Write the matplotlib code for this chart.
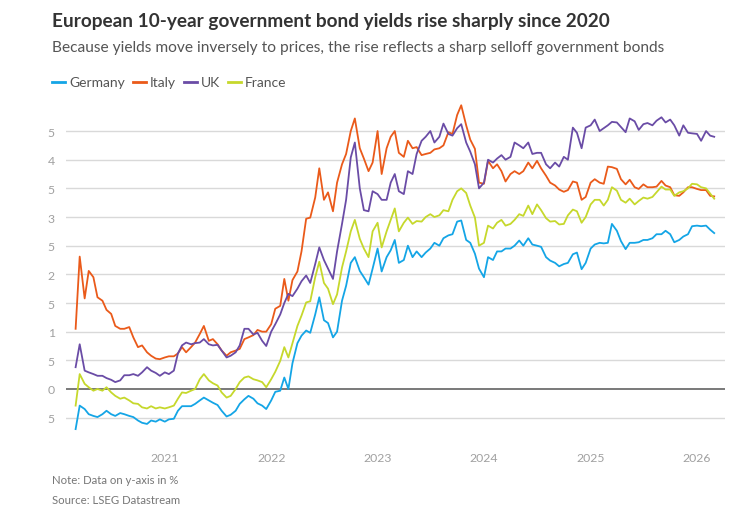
import numpy as np
import pandas as pd
import matplotlib
matplotlib.use("Agg")
import matplotlib.pyplot as plt
import matplotlib.dates as mdates

plt.rcParams['font.family'] = ['Lato', 'DejaVu Sans']

# semi-monthly sample dates, Mar 2020 - Mar 2026
dates = pd.date_range("2020-03-01", periods=145, freq="SMS")

germany = [
    -0.70, -0.29, -0.35, -0.44, -0.47, -0.49, -0.44, -0.38, -0.44, -0.47, -0.42, -0.44,
    -0.47, -0.49, -0.55, -0.59, -0.61, -0.55, -0.57, -0.53, -0.57, -0.53, -0.52, -0.38,
    -0.30, -0.30, -0.30, -0.26, -0.20, -0.15, -0.20, -0.24, -0.28, -0.38, -0.48, -0.45,
    -0.38, -0.26, -0.18, -0.12, -0.17, -0.25, -0.29, -0.35, -0.20, -0.05, -0.03, 0.20,
    0.00, 0.45, 0.80, 0.93, 1.02, 0.98, 1.30, 1.60, 1.20, 1.15, 0.90, 1.00,
    1.54, 1.80, 2.20, 2.30, 2.06, 1.95, 1.82, 2.10, 2.45, 2.05, 2.30, 2.42,
    2.60, 2.20, 2.25, 2.50, 2.30, 2.40, 2.30, 2.38, 2.45, 2.55, 2.50, 2.63,
    2.68, 2.70, 2.92, 2.94, 2.60, 2.55, 2.36, 2.10, 1.95, 2.30, 2.25, 2.40,
    2.40, 2.45, 2.45, 2.50, 2.59, 2.50, 2.63, 2.52, 2.50, 2.48, 2.30, 2.24,
    2.20, 2.14, 2.18, 2.20, 2.35, 2.38, 2.09, 2.20, 2.45, 2.52, 2.55, 2.54,
    2.55, 2.88, 2.76, 2.58, 2.44, 2.55, 2.55, 2.56, 2.60, 2.60, 2.63, 2.70,
    2.70, 2.76, 2.70, 2.56, 2.60, 2.66, 2.70, 2.84, 2.85, 2.84, 2.85, 2.78,
    2.72,
]

italy = [
    1.05, 2.31, 1.58, 2.06, 1.95, 1.60, 1.54, 1.38, 1.31, 1.10, 1.05, 1.05,
    1.08, 0.90, 0.73, 0.76, 0.64, 0.58, 0.53, 0.52, 0.55, 0.57, 0.57, 0.62,
    0.73, 0.64, 0.73, 0.81, 0.96, 1.10, 0.84, 0.87, 0.78, 0.67, 0.58, 0.64,
    0.67, 0.70, 0.87, 0.90, 0.94, 1.03, 1.00, 1.00, 1.13, 1.40, 1.45, 1.92,
    1.54, 1.90, 2.05, 2.40, 2.97, 2.99, 3.34, 3.85, 3.30, 3.43, 3.10, 3.60,
    3.92, 4.10, 4.50, 4.72, 4.20, 4.02, 3.80, 3.95, 4.50, 3.75, 4.20, 4.40,
    4.50, 4.12, 4.05, 4.33, 4.20, 4.22, 4.08, 4.10, 4.12, 4.18, 4.20, 4.25,
    4.48, 4.45, 4.78, 4.95, 4.60, 4.35, 4.19, 3.60, 3.58, 3.98, 3.85, 3.92,
    3.80, 3.62, 3.75, 3.80, 3.75, 3.80, 3.95, 3.85, 3.98, 3.85, 3.72, 3.60,
    3.55, 3.48, 3.44, 3.47, 3.62, 3.60, 3.30, 3.35, 3.60, 3.66, 3.60, 3.58,
    3.88, 3.87, 3.84, 3.66, 3.57, 3.65, 3.52, 3.49, 3.57, 3.52, 3.52, 3.53,
    3.63, 3.55, 3.52, 3.38, 3.37, 3.43, 3.52, 3.52, 3.49, 3.47, 3.47, 3.37,
    3.36,
]

uk = [
    0.38, 0.78, 0.32, 0.29, 0.26, 0.23, 0.23, 0.19, 0.16, 0.12, 0.15, 0.24,
    0.24, 0.26, 0.23, 0.29, 0.38, 0.32, 0.28, 0.23, 0.29, 0.26, 0.32, 0.62,
    0.76, 0.81, 0.78, 0.80, 0.81, 0.87, 0.78, 0.76, 0.77, 0.67, 0.55, 0.58,
    0.64, 0.76, 1.05, 1.05, 0.95, 0.98, 0.84, 0.75, 1.00, 1.13, 1.30, 1.50,
    1.66, 1.62, 1.75, 1.88, 1.98, 1.85, 2.18, 2.47, 2.25, 2.10, 1.92, 2.40,
    2.88, 3.30, 4.04, 4.30, 3.50, 3.12, 3.10, 3.45, 3.40, 3.30, 3.30, 3.60,
    3.75, 3.45, 3.40, 3.80, 3.75, 4.10, 4.33, 4.40, 4.50, 4.30, 4.40, 4.63,
    4.45, 4.42, 4.55, 4.62, 4.30, 4.14, 3.92, 3.50, 3.60, 4.00, 3.95, 4.02,
    4.08, 4.00, 4.05, 4.30, 4.25, 4.20, 4.30, 4.10, 4.12, 4.12, 3.92, 3.85,
    3.95, 3.88, 4.05, 4.00, 4.56, 4.47, 4.20, 4.56, 4.60, 4.70, 4.50, 4.55,
    4.60, 4.66, 4.65, 4.57, 4.48, 4.72, 4.67, 4.52, 4.62, 4.64, 4.60, 4.68,
    4.74, 4.65, 4.70, 4.60, 4.42, 4.60, 4.47, 4.46, 4.45, 4.33, 4.50, 4.42,
    4.40,
]

france = [
    -0.29, 0.26, 0.09, 0.03, -0.03, 0.00, -0.03, 0.03, -0.06, -0.12, -0.17, -0.15,
    -0.20, -0.25, -0.26, -0.32, -0.34, -0.30, -0.34, -0.32, -0.34, -0.32, -0.29, -0.17,
    -0.06, -0.07, -0.03, 0.00, 0.17, 0.26, 0.15, 0.10, 0.06, -0.06, -0.15, -0.12,
    0.00, 0.12, 0.20, 0.22, 0.17, 0.15, 0.12, 0.03, 0.17, 0.30, 0.49, 0.73,
    0.55, 0.80, 1.10, 1.28, 1.51, 1.53, 1.95, 2.22, 1.85, 1.75, 1.48, 1.65,
    2.12, 2.40, 2.75, 2.95, 2.62, 2.45, 2.30, 2.75, 2.90, 2.47, 2.75, 2.95,
    3.15, 2.75, 2.90, 2.99, 2.88, 2.93, 2.92, 3.00, 3.05, 3.00, 3.03, 3.12,
    3.10, 3.30, 3.45, 3.50, 3.42, 3.20, 2.99, 2.50, 2.55, 2.85, 2.80, 2.90,
    2.95, 2.85, 2.88, 2.95, 3.05, 3.02, 3.20, 3.05, 3.22, 3.12, 2.98, 2.92,
    2.93, 2.87, 2.88, 3.03, 3.13, 3.10, 2.90, 3.00, 3.22, 3.30, 3.30, 3.20,
    3.30, 3.52, 3.46, 3.30, 3.25, 3.32, 3.22, 3.28, 3.34, 3.32, 3.35, 3.43,
    3.53, 3.48, 3.48, 3.37, 3.43, 3.45, 3.50, 3.58, 3.57, 3.52, 3.50, 3.41,
    3.32,
]

series = [
    ("Germany", germany, "#14a5e6"),
    ("Italy", italy, "#ea5a1a"),
    ("UK", uk, "#6a4ca6"),
    ("France", france, "#c6d82c"),
]

y_ticks = [-0.5, 0, 0.5, 1, 1.5, 2, 2.5, 3, 3.5, 4, 4.5]
y_tick_labels = ["5", "0", "5", "1", "5", "2", "5", "3", "5", "4", "5"]
x_years = [2021, 2022, 2023, 2024, 2025, 2026]

fig = plt.figure(figsize=(7.56, 5.06), dpi=100)
ax = fig.add_axes([0.0873, 0.133, 0.8717, 0.674])

for yv in y_ticks:
    if yv == 0:
        continue
    ax.axhline(yv, color="#d9d9d9", lw=1.0, zorder=1)
ax.axhline(0, color="#555555", lw=1.1, zorder=2)

for name, vals, col in series:
    ax.plot(dates, vals, color=col, lw=1.3, label=name, zorder=3)

ax.set_xlim(pd.Timestamp("2020-01-28"), pd.Timestamp("2026-04-07"))
ax.set_ylim(-0.85, 5.1)

ax.set_yticks(y_ticks)
ax.set_yticklabels(y_tick_labels)
ax.set_xticks([pd.Timestamp(f"{y}-01-01") for y in x_years])
ax.set_xticklabels([str(y) for y in x_years])
ax.tick_params(axis="both", length=0, labelsize=8.8, colors="#a0a0a0")
ax.tick_params(axis="y", pad=8)
ax.tick_params(axis="x", pad=10)
for s in ax.spines.values():
    s.set_visible(False)

fig.text(52 / 756, 1 - 22 / 506, "European 10-year government bond yields rise sharply since 2020",
         fontsize=13.7, fontweight="bold", color="#333333", va="center", ha="left")
fig.text(52 / 756, 1 - 48 / 506,
         "Because yields move inversely to prices, the rise reflects a sharp selloff government bonds",
         fontsize=11.2, color="#555555", va="center", ha="left")

# legend row
lx = 52
for name, vals, col in series:
    fig.add_artist(plt.Line2D([lx / 756, (lx + 13) / 756], [1 - 83 / 506] * 2,
                              color=col, lw=2, transform=fig.transFigure))
    t = fig.text((lx + 17) / 756, 1 - 83 / 506, name, fontsize=10, color="#555555",
                 va="center", ha="left")
    fig.canvas.draw()
    bb = t.get_window_extent()
    lx = bb.x1 + 8

fig.text(52 / 756, 1 - 481 / 506, "Note: Data on y-axis in %", fontsize=8.2,
         color="#777777", va="center", ha="left")
fig.text(52 / 756, 1 - 501 / 506, "Source: LSEG Datastream", fontsize=8.2,
         color="#777777", va="center", ha="left")

fig.savefig("out.png", dpi=100)
